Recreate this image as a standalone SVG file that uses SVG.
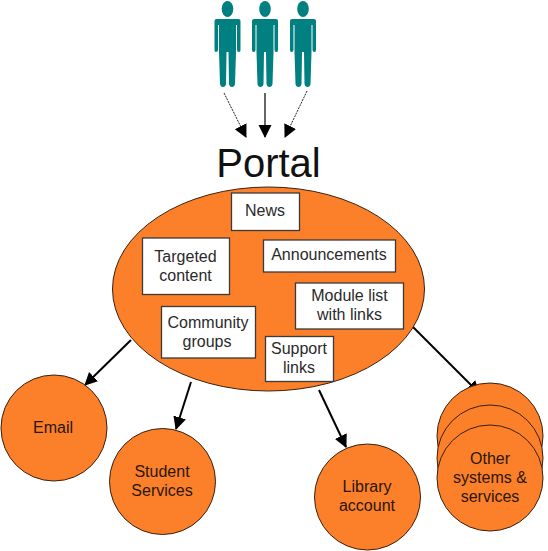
<svg xmlns="http://www.w3.org/2000/svg" width="548" height="551" viewBox="0 0 548 551">
<style>
.o{fill:#fb8029;stroke:#3a2010;stroke-width:1}
.b{fill:#fff;stroke:#3a3a3a;stroke-width:1.3}
text{font-family:"Liberation Sans",Arial,sans-serif;font-size:16px;text-anchor:middle;fill:#2a2a2a}
.d{fill:#2a1608}
.c{fill:none;stroke:#000;stroke-width:2}
.s{fill:none;stroke:#000;stroke-width:1.2}
.t{fill:none;stroke:#222;stroke-width:1;stroke-dasharray:2 1}
.p{fill:#008080}
</style>
<defs>
<marker id="a" markerUnits="userSpaceOnUse" markerWidth="14" markerHeight="14" refX="12" refY="6.5" orient="auto"><path d="M0 0L13 6.5L0 13Z" fill="#000"/></marker>
<g id="person"><ellipse cx="0" cy="9" rx="5.800" ry="8" class="p"/><path class="p" d="M-11 19H11Q13 19 13 21V50Q13 52 11.500 52Q9.500 52 9.500 50V25H8.500V52L7.500 84Q7 87 4.500 87Q2 87 1.500 84L1 52H-1L-1.500 84Q-2 87-4.500 87Q-7 87-7.500 84L-8.500 52V25H-9.500V50Q-9.500 52-11.500 52Q-13 52-13 50V21Q-13 19-11 19Z"/></g>
</defs>
<g id="users"><use href="#person" x="227.500" y="0"/><use href="#person" x="265" y="0"/><use href="#person" x="303" y="0"/></g>
<g id="connectors">
<path class="t" d="M224 93L246 137" marker-end="url(#a)"/>
<path class="s" d="M265 93V137" marker-end="url(#a)"/>
<path class="t" d="M307 91L285 137" marker-end="url(#a)"/>
<path class="c" d="M131 340L85 385" marker-end="url(#a)"/>
<path class="c" d="M191 382L176 429" marker-end="url(#a)"/>
<path class="c" d="M319 390L346 447" marker-end="url(#a)"/>
<path class="c" d="M413 327L479 393" marker-end="url(#a)"/>
</g>
<g id="portal"><text x="268.500" y="177" style="font-size:40px;fill:#111">Portal</text>
<ellipse class="o" cx="268.500" cy="289" rx="156" ry="102"/></g>
<g id="news"><rect class="b" x="231.500" y="193" width="68" height="37.500"/><text x="265" y="216">News</text></g>
<g id="targeted"><rect class="b" x="142.500" y="238" width="87" height="56.500"/><text x="185.500" y="262">Targeted</text><text x="185.500" y="281">content</text></g>
<g id="announcements"><rect class="b" x="263.500" y="240" width="132" height="32"/><text x="329" y="260">Announcements</text></g>
<g id="module"><rect class="b" x="295.500" y="283" width="108" height="46"/><text x="349.500" y="301">Module list</text><text x="349.500" y="320">with links</text></g>
<g id="community"><rect class="b" x="161.500" y="306.500" width="94" height="51.500"/><text x="208" y="327.500">Community</text><text x="207" y="346.500">groups</text></g>
<g id="support"><rect class="b" x="265.500" y="336.500" width="68" height="45"/><text x="299" y="353.500">Support</text><text x="299" y="372.500">links</text></g>
<g id="email"><circle class="o" cx="54" cy="428" r="53"/><text class="d" x="53" y="432.500">Email</text></g>
<g id="student"><circle class="o" cx="162.500" cy="481.500" r="53"/><text class="d" x="162" y="476.500">Student</text><text class="d" x="162" y="495.500">Services</text></g>
<g id="library"><circle class="o" cx="367.500" cy="497" r="53"/><text class="d" x="367" y="491.500">Library</text><text class="d" x="367" y="510.500">account</text></g>
<g id="other"><circle class="o" cx="490" cy="436" r="53"/><circle class="o" cx="490" cy="458" r="53"/><circle class="o" cx="490" cy="478" r="53"/><text class="d" x="490" y="463.500">Other</text><text class="d" x="490" y="482.500">systems &amp;</text><text class="d" x="490" y="501.500">services</text></g>
</svg>
